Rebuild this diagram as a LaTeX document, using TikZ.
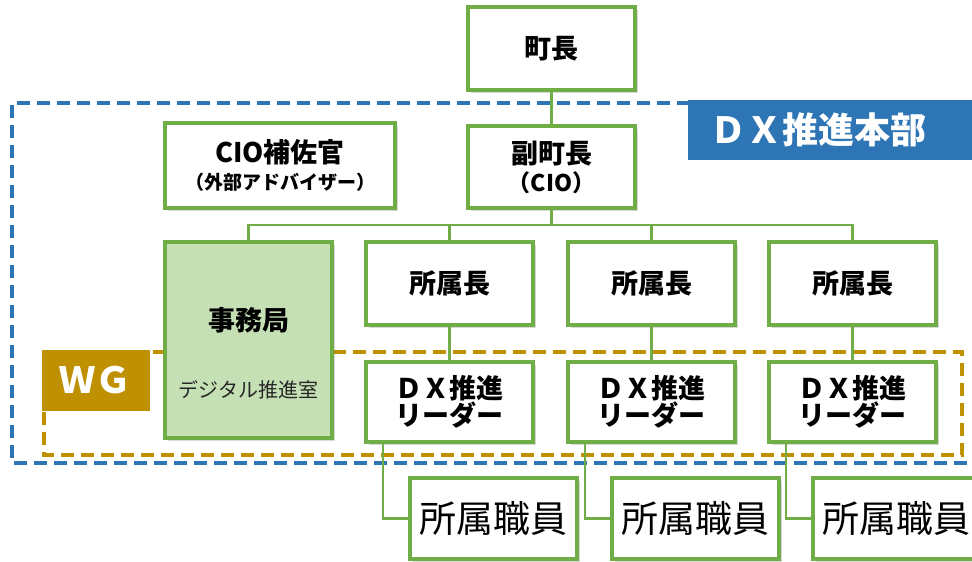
\documentclass[tikz,border=0pt]{standalone}
\usepackage{fontspec}
\setmainfont{Noto Sans CJK JP}
\usetikzlibrary{shadows}
\definecolor{grn}{HTML}{70AD47}
\definecolor{jimufill}{HTML}{C5E0B4}
\definecolor{dxblue}{HTML}{2E75B6}
\definecolor{wggold}{HTML}{BF9000}
\begin{document}
\begin{tikzpicture}[x=1pt,y=-1pt,
  box/.style={draw=grn, line width=3.4pt, fill=white, minimum width=167pt, minimum height=83pt,
    inner sep=0pt, align=center, font=\bfseries\fontsize{27}{32}\selectfont,
    drop shadow={shadow xshift=2.5pt, shadow yshift=-2.5pt, opacity=0.3}},
  conn/.style={draw=grn, line width=2.2pt},
  bluedash/.style={draw=dxblue, line width=3.8pt, dash pattern=on 13pt off 7pt},
  golddash/.style={draw=wggold, line width=3.8pt, dash pattern=on 13pt off 7pt},
  tag/.style={inner sep=0pt, text=white, font=\bfseries\fontsize{36}{40}\selectfont},
  staffbox/.style={box, minimum height=81pt, font=\fontsize{37}{40}\selectfont},
]
\useasboundingbox (0,0) rectangle (972,562);
\clip (0,0) rectangle (972,562);

% outer dashed frames
\draw[bluedash] (990,103) -- (12,103) -- (12,463) -- (990,463);
\draw[golddash] (44,352) rectangle (962,455);

% frame labels
\node[tag, fill=dxblue, minimum width=300pt, minimum height=60pt, anchor=north west] (dxlab) at (688,100) {};
\node[tag, anchor=west] (dxtext) at (710,130) {ＤＸ推進本部};
\node[tag, fill=wggold, minimum width=108pt, minimum height=61pt, anchor=north west] (wglab) at (42,350) {};
\node[tag, anchor=center] (wgtext) at (95,380) {ＷＧ};

% nodes
\node[box] (mayor) at (551.5,48.5) {町長};
\node[box, minimum height=82pt] (vice) at (551.5,167) {副町長\\[-4pt]{\fontsize{23}{27}\selectfont （CIO）}};
\node[box, minimum width=230pt, minimum height=85pt] (cio) at (280,165.5) {CIO補佐官\\[-5pt]{\fontsize{19}{23}\selectfont （外部アドバイザー）}};
\node[box, fill=jimufill, minimum height=196pt] (jimu) at (248.5,340) {};
\node[font=\bfseries\fontsize{27}{30}\selectfont] (jimutext) at (248.5,320) {事務局};
\node[font=\fontsize{20}{24}\selectfont, text=black!85] (dsr) at (248.5,390) {デジタル推進室};

\foreach \i/\x in {1/449.5, 2/651.5, 3/852.5} {
  \node[box] (head\i) at (\x,283.5) {所属長};
  \node[box, minimum height=80pt] (lead\i) at (\x,402) {ＤＸ推進\\[-5pt]リーダー};
}
\node[staffbox] (staff1) at (493.5,518.5) {所属職員};
\node[staffbox] (staff2) at (695.5,518.5) {所属職員};
\node[staffbox] (staff3) at (896.5,518.5) {所属職員};

% connectors
\coordinate (bus) at (551.5,225);
\draw[conn] (mayor.south) -- (vice.north);
\draw[conn] (vice.south) -- (bus);
\draw[conn] (jimu.north) |- (bus) -| (head3.north);
\draw[conn] (head1.north) |- (bus);
\draw[conn] (head2.north) |- (bus);
\foreach \i in {1,2,3} {
  \draw[conn] (head\i.south) -- (lead\i.north);
  \draw[conn] ([xshift=-66.5pt]lead\i.south) |- (staff\i.west);
}
\end{tikzpicture}
\end{document}
